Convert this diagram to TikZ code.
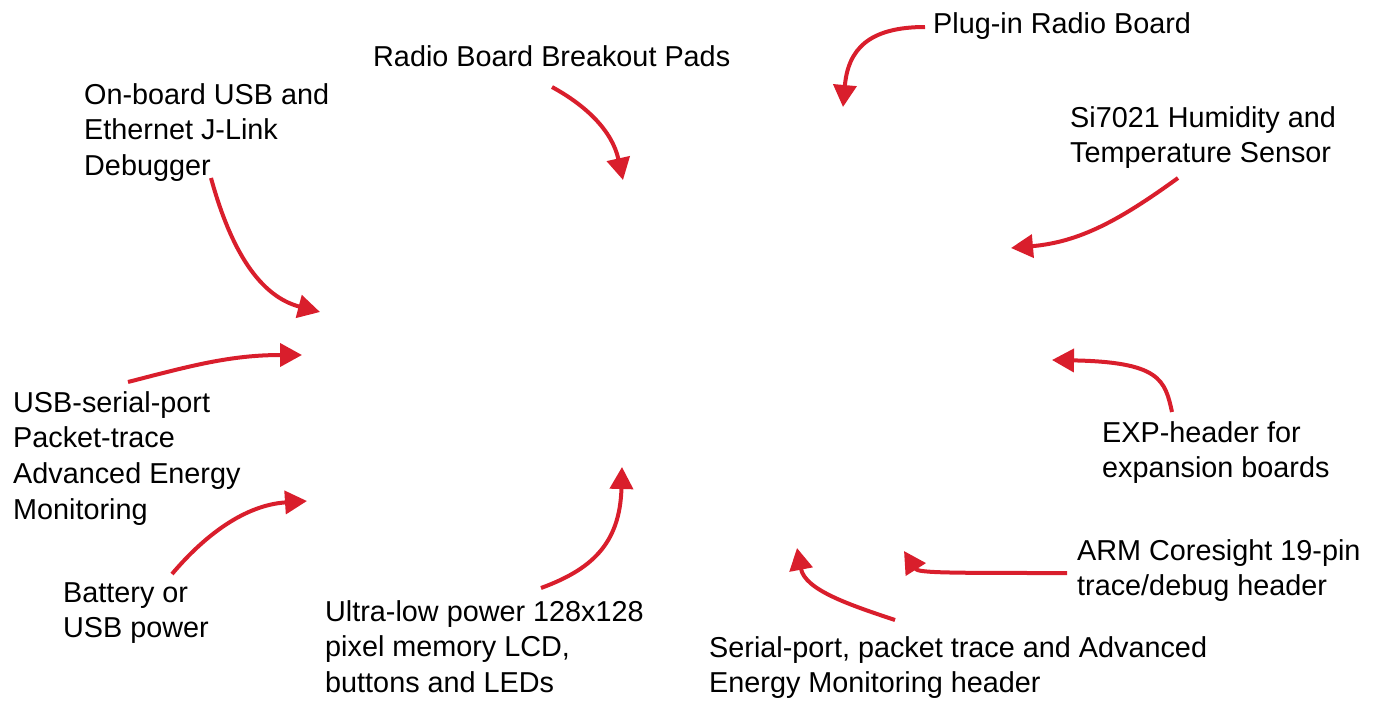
\documentclass[tikz,border=0pt]{standalone}
\usepackage{fontspec}
\setmainfont{Liberation Sans}
\usetikzlibrary{arrows.meta}
\definecolor{arrowred}{RGB}{217,30,44}

\begin{document}
\begin{tikzpicture}[
    x={(1pt,0pt)},
    y={(0pt,-1pt)},
    callout/.style={
      font=\fontsize{28.8pt}{35.8pt}\selectfont,
      align=left,
      inner sep=0pt,
      anchor=base west
    },
    pointer/.style={
      draw=arrowred,
      line width=4pt,
      -{Triangle[length=22pt,width=23pt]}
    }
  ]
  \useasboundingbox (0,0) rectangle (1377,702);

  % labels (placed at the baseline of their last line)
  \node[callout] (plug)   at (933,33)     {Plug-in Radio Board};
  \node[callout] (pads)   at (373,66)     {Radio Board Breakout Pads};
  \node[callout] (jlink)  at (84,175.6)   {On-board USB and\\Ethernet J-Link\\Debugger};
  \node[callout] (sensor) at (1070,162.8) {Si7021 Humidity and\\Temperature Sensor};
  \node[callout] (vcom)   at (13,519.4)   {USB-serial-port\\Packet-trace\\Advanced Energy\\Monitoring};
  \node[callout] (exphdr) at (1102,477.8) {EXP-header for\\expansion boards};
  \node[callout] (trace)  at (1077,595.8) {ARM Coresight 19-pin\\trace/debug header};
  \node[callout] (power)  at (63,637.8)   {Battery or\\USB power};
  \node[callout] (lcd)    at (325,692.6)  {Ultra-low power 128x128\\pixel memory LCD,\\buttons and LEDs};
  \node[callout] (aem)    at (709,692.8)  {Serial-port, packet trace and Advanced\\Energy Monitoring header};

  % arrow tips
  \coordinate (plug-tip)   at (843,107);
  \coordinate (pads-tip)   at (623,180);
  \coordinate (jlink-tip)  at (320,312);
  \coordinate (sensor-tip) at (1011,248);
  \coordinate (vcom-tip)   at (302,355);
  \coordinate (exphdr-tip) at (1052,360);
  \coordinate (trace-tip)  at (904,551);
  \coordinate (power-tip)  at (307,501);
  \coordinate (lcd-tip)    at (622,467);
  \coordinate (aem-tip)    at (797,548);

  % arrows
  \draw[pointer]
    ([shift={(-8,-6)}]plug.base west) .. controls (868,27) and (848,50) .. (plug-tip);
  \draw[pointer]
    ([shift={(179,21)}]pads.base west) .. controls (585,105) and (612,130) .. (pads-tip);
  \draw[pointer]
    ([shift={(127,2.4)}]jlink.base west) .. controls (228,240) and (255,295) .. (jlink-tip);
  \draw[pointer]
    ([shift={(108,15.2)}]sensor.base west) .. controls (1120,220) and (1080,242) .. (sensor-tip);
  \draw[pointer]
    ([shift={(115,-137.4)}]vcom.base west) .. controls (190,366) and (230,355) .. (vcom-tip);
  \draw[pointer]
    ([shift={(70,-65.8)}]exphdr.base west) .. controls (1165,380) and (1160,362) .. (exphdr-tip);
  \draw[pointer]
    ([shift={(-10,-22.8)}]trace.base west) .. controls (950,573) and (918,573) .. (trace-tip);
  \draw[pointer]
    ([shift={(109,-63.8)}]power.base west) .. controls (205,535) and (245,505) .. (power-tip);
  \draw[pointer]
    ([shift={(216,-104.6)}]lcd.base west) .. controls (590,570) and (620,545) .. (lcd-tip);
  \draw[pointer]
    ([shift={(186,-72.8)}]aem.base west) .. controls (850,605) and (805,590) .. (aem-tip);
\end{tikzpicture}
\end{document}
